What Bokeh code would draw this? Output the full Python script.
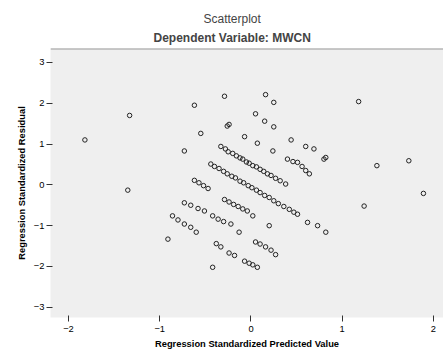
from bokeh.plotting import figure
from bokeh.models import Span, Title, FixedTicker
from bokeh.embed import file_html
from bokeh.resources import INLINE

title_main = "Scatterplot"
title_sub = "Dependent Variable: MWCN"
x_label = "Regression Standardized Predicted Value"
y_label = "Regression Standardized Residual"
x_ticks = [-2, -1, 0, 1, 2]
y_ticks = [-3, -2, -1, 0, 1, 2, 3]

# isolated / upper points
upper_x = [-1.33, -1.82, -1.35, 1.18, 1.38, 1.73, 1.89, 1.24, -0.62, -0.29, 0.16, 0.25,
           0.05, 0.15, 0.25, -0.24, -0.26, -0.55, -0.07, 0.07, 0.24, 0.44, 0.60, 0.69, 0.82, -0.73]
upper_y = [1.70, 1.10, -0.13, 2.04, 0.47, 0.59, -0.21, -0.52, 1.95, 2.17, 2.21, 2.02,
           1.74, 1.56, 1.42, 1.48, 1.44, 1.26, 1.18, 1.02, 0.83, 1.10, 0.94, 0.88, 0.67, 0.83]

band1_x = [-0.33, -0.28, -0.25, -0.20, -0.16, -0.12, -0.09, -0.05, -0.02, 0.02, 0.06, 0.10,
           0.14, 0.18, 0.22, 0.27, 0.32, 0.38, 0.40, 0.46, 0.51, 0.56, 0.60, 0.64, 0.80]
band1_y = [0.94, 0.88, 0.81, 0.77, 0.71, 0.66, 0.63, 0.56, 0.53, 0.47, 0.44, 0.38,
           0.33, 0.27, 0.23, 0.16, 0.10, 0.02, 0.63, 0.57, 0.55, 0.45, 0.35, 0.27, 0.63]

band2_x = [-0.44, -0.40, -0.35, -0.30, -0.26, -0.21, -0.17, -0.12, -0.08, -0.03, 0.01, 0.06,
           0.10, 0.15, 0.20, 0.25, 0.30, 0.36, 0.42, 0.47, 0.51, 0.62, 0.73, 0.82]
band2_y = [0.51, 0.45, 0.40, 0.33, 0.27, 0.21, 0.17, 0.09, 0.05, -0.02, -0.07, -0.13,
           -0.19, -0.26, -0.31, -0.39, -0.46, -0.53, -0.60, -0.67, -0.72, -0.92, -1.00, -1.16]

band3_x = [-0.62, -0.57, -0.52, -0.47, -0.29, -0.24, -0.19, -0.14, -0.09, -0.04, 0.02, 0.20,
           -0.73, -0.66, -0.58, -0.51, -0.42, -0.36, -0.30, -0.22, -0.13, 0.05, 0.10, 0.16, 0.22, 0.27]
band3_y = [0.11, 0.05, -0.02, -0.09, -0.36, -0.42, -0.48, -0.53, -0.59, -0.64, -0.76, -1.00,
           -0.44, -0.50, -0.58, -0.64, -0.76, -0.84, -0.90, -0.96, -1.16, -1.40, -1.45, -1.52, -1.60, -1.71]

band4_x = [-0.86, -0.80, -0.73, -0.66, -0.60, -0.91, -0.38, -0.33, -0.24, -0.18, -0.07, -0.02,
           0.02, 0.07, -0.42]
band4_y = [-0.76, -0.86, -0.96, -1.04, -1.16, -1.33, -1.44, -1.52, -1.67, -1.73, -1.87, -1.92,
           -1.96, -2.02, -2.02]

FONT = "Liberation Sans"

p = figure(width=443, height=351, output_backend="svg", toolbar_location=None,
           x_range=(-2.197, 2.11), y_range=(-3.25, 3.34),
           min_border_left=50, min_border_right=0, min_border_top=48, min_border_bottom=34)
p.background_fill_color = "#efefef"
p.border_fill_color = "white"
p.outline_line_color = None
p.grid.visible = False

for xs, ys in [(upper_x, upper_y), (band1_x, band1_y), (band2_x, band2_y),
               (band3_x, band3_y), (band4_x, band4_y)]:
    p.scatter(xs, ys, marker="circle", size=4.5, fill_color=None,
              line_color="#222222", line_width=1)

p.add_layout(Span(location=3.34, dimension="width", line_color="#9a9a9a", line_width=2))

p.add_layout(Title(text=title_sub, align="left", offset=103, text_font=FONT,
                   text_font_size="9pt", text_font_style="bold", standoff=7), "above")
p.add_layout(Title(text=title_main, align="left", offset=153, text_font=FONT,
                   text_font_size="9pt", text_font_style="normal", standoff=0), "above")

p.xaxis.ticker = FixedTicker(ticks=x_ticks)
p.yaxis.ticker = FixedTicker(ticks=y_ticks)
for ax in (p.xaxis[0], p.yaxis[0]):
    ax.axis_line_color = None
    ax.major_tick_line_color = "#333333"
    ax.major_tick_in = 2
    ax.major_tick_out = 4
    ax.minor_tick_line_color = None
    ax.major_label_text_font = FONT
    ax.major_label_text_font_size = "7pt"
    ax.major_label_text_color = "black"
    ax.axis_label_text_font = FONT
    ax.axis_label_text_font_size = "7pt"
    ax.axis_label_text_font_style = "bold"
    ax.axis_label_text_color = "black"
p.xaxis.axis_label = x_label
p.yaxis.axis_label = y_label
p.xaxis.axis_label_standoff = 4
p.yaxis.axis_label_standoff = 4
p.xaxis.major_label_standoff = 4
p.yaxis.major_label_standoff = 2

open("out.html", "w").write(file_html(p, INLINE))
